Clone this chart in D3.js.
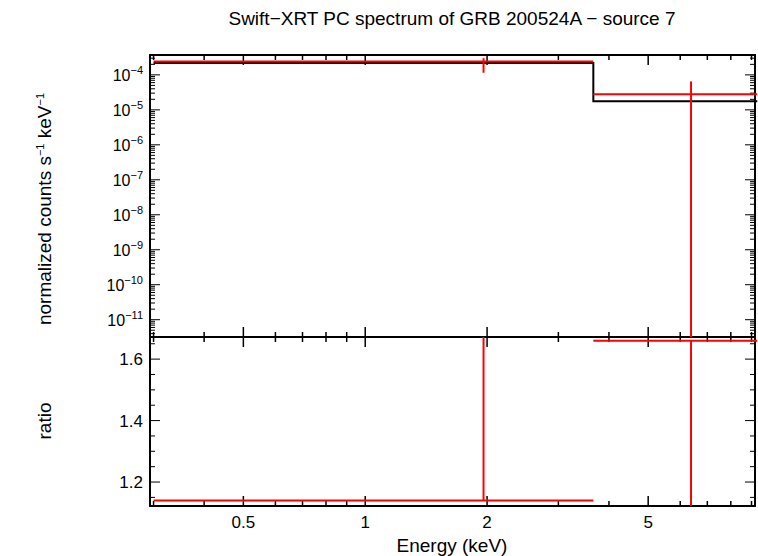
<!DOCTYPE html>
<html><head><meta charset="utf-8">
<script src="https://cdn.jsdelivr.net/npm/d3@7"></script>
<style>
body{margin:0;background:#fff;}
text{font-family:"Liberation Sans",Arial,sans-serif;}
</style></head>
<body>
<svg id="c" width="758" height="556"></svg>
<script>
// bins (keV)
var binLo = [0.3, 3.66];
var binHi = [3.66, 9.3];
var binMid = [1.96, 6.38];
var modelVals = [2.2e-4, 1.75e-5];
var dataVals = [2.4e-4, 2.8e-5];
var dataErrLo = [1.15e-4, 1e-13];
var dataErrHi = [3.0e-4, 6.5e-5];
var ratioVals = [1.14, 1.66];
var ratioErrLo = [1.14, 1.0];
var ratioErrHi = [2.0, 1.66];
var xTicks = [0.5, 1, 2, 5];
var yTopTicks = [-4, -5, -6, -7, -8, -9, -10, -11];
var yBotTicks = [1.2, 1.4, 1.6];

var svg = d3.select("#c");
var L = 150, R = 755, T = 55, M = 337, B = 506;

var x = d3.scaleLog().domain([0.294, 9.18]).range([L, R]);
var yT = d3.scaleLog().domain([3.2e-12, 3.7e-4]).range([M, T]).clamp(true);
var yB = d3.scaleLinear().domain([1.122, 1.672]).range([B, M]).clamp(true);

svg.append("text").attr("x", 452).attr("y", 25).attr("text-anchor", "middle")
  .attr("font-size", 19).text("Swift\u2212XRT PC spectrum of GRB 200524A \u2212 source 7");

// minor x ticks
var minorX = [];
[0.1, 1].forEach(function(d){ for (var i = 1; i < 10; i++){ var v = d*i; if (v >= 0.3 && v <= 9.18) minorX.push(v); } });

function frame(y0, y1){
  svg.append("rect").attr("x", L).attr("y", y0).attr("width", R-L).attr("height", y1-y0)
    .attr("fill", "none").attr("stroke", "#000").attr("stroke-width", 2);
  minorX.forEach(function(v){
    var big = xTicks.indexOf(v) >= 0 || v === 1;
    var len = big ? 10 : 5;
    svg.append("line").attr("x1", x(v)).attr("x2", x(v)).attr("y1", y0).attr("y2", y0+len).attr("stroke", "#000").attr("stroke-width", 1.5);
    svg.append("line").attr("x1", x(v)).attr("x2", x(v)).attr("y1", y1).attr("y2", y1-len).attr("stroke", "#000").attr("stroke-width", 1.5);
  });
}
frame(T, M);
frame(M, B);

// top y ticks
for (var e = -12; e <= -3; e++){
  for (var i = 1; i < 10; i++){
    var v = i*Math.pow(10, e);
    if (v < 3.2e-12 || v > 3.7e-4) continue;
    var len = i === 1 ? 10 : 5;
    svg.append("line").attr("x1", L).attr("x2", L+len).attr("y1", yT(v)).attr("y2", yT(v)).attr("stroke", "#000");
    svg.append("line").attr("x1", R).attr("x2", R-len).attr("y1", yT(v)).attr("y2", yT(v)).attr("stroke", "#000");
  }
}
yTopTicks.forEach(function(p){
  var t = svg.append("text").attr("x", 143).attr("y", yT(Math.pow(10, p))+6).attr("text-anchor", "end").attr("font-size", 16);
  t.append("tspan").text("10");
  t.append("tspan").attr("dy", -7).attr("font-size", 11).text(String(p).replace("-", "\u2212"));
});

// bottom y ticks
d3.range(1.15, 1.67, 0.05).forEach(function(v){
  var big = Math.abs(v*10 - Math.round(v*10)) < 1e-6 && Math.round(v*10) % 2 === 0;
  var len = big ? 10 : 5;
  svg.append("line").attr("x1", L).attr("x2", L+len).attr("y1", yB(v)).attr("y2", yB(v)).attr("stroke", "#000");
  svg.append("line").attr("x1", R).attr("x2", R-len).attr("y1", yB(v)).attr("y2", yB(v)).attr("stroke", "#000");
});
yBotTicks.forEach(function(v){
  svg.append("text").attr("x", 143).attr("y", yB(v)+6).attr("text-anchor", "end").attr("font-size", 17).text(v.toFixed(1));
});

xTicks.forEach(function(v){
  svg.append("text").attr("x", x(v)).attr("y", 528).attr("text-anchor", "middle").attr("font-size", 17).text(v);
});
svg.append("text").attr("x", 452).attr("y", 552).attr("text-anchor", "middle").attr("font-size", 19).text("Energy (keV)");

var yl = svg.append("text").attr("transform", "translate(51,209) rotate(-90)").attr("text-anchor", "middle").attr("font-size", 19);
yl.append("tspan").text("normalized counts s");
yl.append("tspan").attr("dy", -7).attr("font-size", 11).text("\u22121");
yl.append("tspan").attr("dy", 7).text(" keV");
yl.append("tspan").attr("dy", -7).attr("font-size", 11).text("\u22121");
svg.append("text").attr("transform", "translate(51,421) rotate(-90)").attr("text-anchor", "middle").attr("font-size", 19).text("ratio");

// model step
var step = d3.line().x(function(d){ return d[0]; }).y(function(d){ return d[1]; });
var pts = [];
binLo.forEach(function(lo, i){ pts.push([x(lo), yT(modelVals[i])]); pts.push([x(binHi[i]), yT(modelVals[i])]); });
svg.append("path").attr("d", step(pts)).attr("fill", "none").attr("stroke", "#000").attr("stroke-width", 2);

// data points
function cross(ys, val, lo, hi){
  binLo.forEach(function(b, i){
    svg.append("line").attr("x1", x(b)).attr("x2", x(binHi[i])).attr("y1", ys(val[i])).attr("y2", ys(val[i])).attr("stroke", "red").attr("stroke-width", 2);
    svg.append("line").attr("x1", x(binMid[i])).attr("x2", x(binMid[i])).attr("y1", ys(lo[i])).attr("y2", ys(hi[i])).attr("stroke", "red").attr("stroke-width", 2);
  });
}
cross(yT, dataVals, dataErrLo, dataErrHi);
cross(yB, ratioVals, ratioErrLo, ratioErrHi);
</script>
</body></html>
